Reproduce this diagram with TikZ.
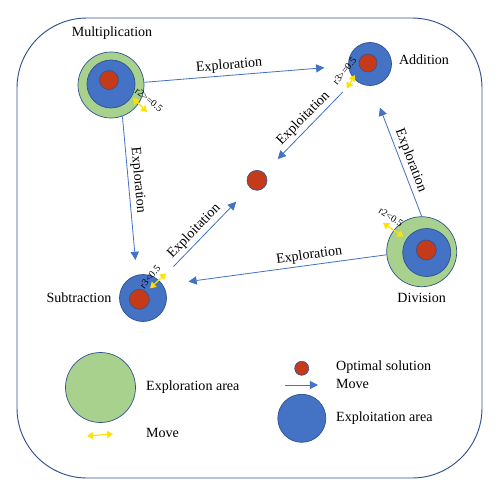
\documentclass[tikz,border=0pt]{standalone}
\usepackage{fontspec}
\setmainfont{Liberation Serif}
\usepackage{tikz}
\usetikzlibrary{arrows.meta, positioning}
\definecolor{area_green}{RGB}{169, 209, 142}
\definecolor{area_blue}{RGB}{68, 114, 196}
\definecolor{sol_red}{RGB}{197, 58, 24}
\definecolor{edge_blue}{RGB}{47, 82, 143}
\definecolor{move_yellow}{RGB}{255, 225, 0}

\begin{document}
\begin{tikzpicture}[
        x=0.03cm, y=-0.03cm,
        explo/.style={circle, draw=edge_blue, fill=area_green, line width=0.6pt, inner sep=0pt},
        exploit/.style={circle, draw=edge_blue, fill=area_blue, line width=0.6pt, inner sep=0pt},
        opt/.style={circle, draw=edge_blue, fill=sol_red, line width=0.5pt, inner sep=0pt, minimum size=0.6cm},
        arr/.style={-{Triangle[length=7pt, width=7pt]}, area_blue, line width=0.7pt},
        yarr/.style={{Triangle[length=5pt, width=6pt]}-{Triangle[length=5pt, width=6pt]}, move_yellow, line width=1pt},
        lbl/.style={font=\fontsize{12}{14}\selectfont, text=black, inner sep=2.5pt},
        tag/.style={font=\fontsize{8.5}{10}\selectfont, text=black, inner sep=0pt},
      ]
        \useasboundingbox (0,0) rectangle (500,497);
        \draw[edge_blue, line width=0.8pt, rounded corners=2.1cm] (17,18) rectangle (482,478);

        % operators
        \node[explo, minimum size=1.98cm] (mulx) at (111,85) {};
        \node[exploit, minimum size=1.44cm] (mule) at (111,84) {};
        \node[opt, minimum size=0.57cm] (mulo) at (109,80) {};
        \node[exploit, minimum size=1.29cm] (add) at (370,64) {};
        \node[opt, minimum size=0.54cm] (addo) at (368,63) {};
        \node[explo, minimum size=2.1cm] (divx) at (421.7,251.7) {};
        \node[exploit, minimum size=1.44cm] (dive) at (426.7,252.5) {};
        \node[opt] (divo) at (426.3,250) {};
        \node[exploit, minimum size=1.41cm] (sub) at (143,298) {};
        \node[opt] (subo) at (139.3,299.3) {};
        \node[opt] (best) at (257,180.3) {};

        \node[lbl] (mullbl) at (112,33) {Multiplication};
        \node[lbl] (addlbl) at (424,60) {Addition};
        \node[lbl] (divlbl) at (421.7,298) {Division};
        \node[lbl] (sublbl) at (79,298) {Subtraction};

        \draw[arr, shorten >=0.72cm] (mulx) -- node[lbl, sloped, above, pos=0.42]{Exploration} (add);
        \draw[arr, shorten >=0.45cm] (mulx.290) -- node[lbl, sloped, above, pos=0.41]{Exploration} (sub.105);
        \draw[arr, shorten >=0.7cm] (divx.north) -- node[lbl, sloped, above, pos=0.4]{Exploration} (add.274);
        \draw[arr, shorten >=0.77cm] (divx.185) -- node[lbl, sloped, above, pos=0.34]{Exploration} (sub.33);
        \draw[arr, shorten <=0.52cm, shorten >=0.58cm] (add) -- node[lbl, sloped, above, pos=0.49]{Exploitation} (best);
        \draw[arr, shorten <=0.6cm, shorten >=0.59cm] (sub) -- node[lbl, sloped, above, pos=0.46]{Exploitation} (best);

        % radius moves
        \coordinate (mulm1) at (133,98);
        \coordinate (mulm2) at (147,112);
        \coordinate (addm1) at (355,75);
        \coordinate (addm2) at (346.7,88.3);
        \coordinate (divm1) at (383,223);
        \coordinate (divm2) at (403.3,236.7);
        \coordinate (subm1) at (150,288.3);
        \coordinate (subm2) at (166,273.3);
        \draw[yarr] (mulm1) -- (mulm2);
        \draw[yarr] (addm1) -- (addm2);
        \draw[yarr] (divm1) -- (divm2);
        \draw[yarr] (subm1) -- (subm2);
        \node[tag, rotate=-38] (multag) at (149,100) {r2>=0.5};
        \node[tag, rotate=52] (addtag) at (344.5,71) {r3>=0.5};
        \node[tag, rotate=-33] (divtag) at (391,217) {r2<0.5};
        \node[tag, rotate=50] (subtag) at (150,277) {r3<0.5};

        % legend
        \node[explo, minimum size=2.1cm] (legx) at (100.5,387.5) {};
        \node[lbl, anchor=west] (legxlbl) at (143,387) {Exploration area};
        \coordinate (legm1) at (87,436);
        \coordinate (legm2) at (113,434);
        \draw[yarr] (legm1) -- (legm2);
        \node[lbl, anchor=west] (legmlbl) at (143,433) {Move};
        \node[opt, minimum size=0.42cm] (lego) at (301.7,368.3) {};
        \node[lbl, anchor=west] (legolbl) at (333,367) {Optimal solution};
        \coordinate (lega1) at (285,385);
        \coordinate (lega2) at (318,385);
        \draw[arr] (lega1) -- (lega2);
        \node[lbl, anchor=west] (legalbl) at (333,384) {Move};
        \node[exploit, minimum size=1.44cm] (lege) at (301.8,418.3) {};
        \node[lbl, anchor=west] (legelbl) at (333,418) {Exploitation area};
      \end{tikzpicture}
\end{document}
